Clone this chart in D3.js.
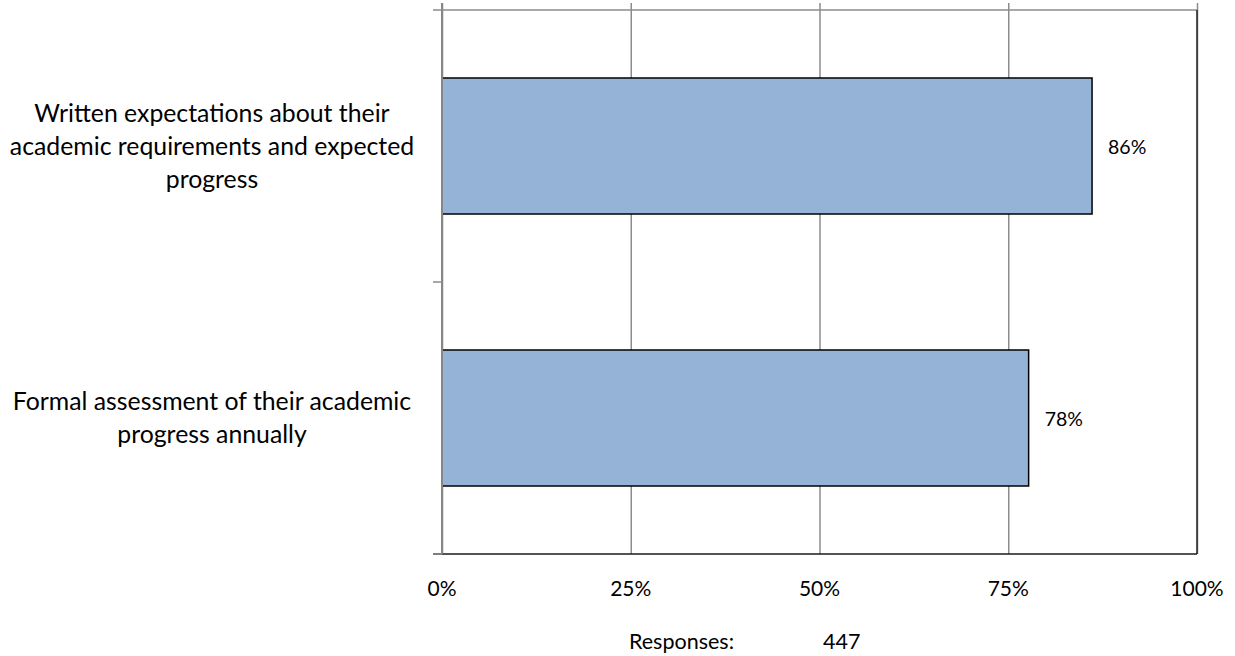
<!DOCTYPE html>
<html>
<head>
<meta charset="utf-8">
<script src="https://cdn.jsdelivr.net/npm/d3@7/dist/d3.min.js"></script>
<style>
  html, body { margin: 0; padding: 0; background: #fff; }
  svg { display: block; font-family: Lato, "Open Sans", sans-serif; }
</style>
</head>
<body>
<svg id="chart" width="1235" height="656"></svg>
<script>
const categories = [
  ["Written expectations about their", "academic requirements and expected", "progress"],
  ["Formal assessment of their academic", "progress annually"]
];
const values = [0.861, 0.777];
const valueLabels = ["86%", "78%"];
const tickValues = [0, 0.25, 0.5, 0.75, 1];
const tickLabels = ["0%", "25%", "50%", "75%", "100%"];
const responsesLabel = "Responses:";
const responsesCount = "447";

(function () {
const svg = d3.select("#chart");
const pLeft = 442, pRight = 1197, pTop = 10, pBottom = 554;
const ids = categories.map((d, i) => i);

const x = d3.scaleLinear().domain([0, 1]).range([pLeft, pRight]);
const y = d3.scaleBand().domain(ids).range([pTop, pBottom]).paddingInner(0.5).paddingOuter(0.25);

// gridlines (vertical) incl. small marks above top
const grid = svg.append("g").attr("transform", `translate(0,${pBottom})`)
  .call(d3.axisTop(x).tickValues(tickValues).tickSize(pBottom - pTop + 7).tickFormat(""));
grid.select(".domain").remove();
grid.selectAll("line").attr("stroke", "#8c8c8c").attr("stroke-width", 1.5);

// top border
svg.append("line").attr("x1", pLeft).attr("x2", pRight).attr("y1", pTop).attr("y2", pTop)
  .attr("stroke", "#8c8c8c").attr("stroke-width", 1.5);
// right border
svg.append("line").attr("x1", pRight).attr("x2", pRight).attr("y1", pTop).attr("y2", pBottom)
  .attr("stroke", "#262626").attr("stroke-width", 1.5);

// bars
svg.append("g").selectAll("rect").data(values).join("rect")
  .attr("x", x(0))
  .attr("y", (d, i) => y(i))
  .attr("width", d => x(d) - x(0))
  .attr("height", y.bandwidth())
  .attr("fill", "#95b3d7")
  .attr("stroke", "#000")
  .attr("stroke-width", 1.5);

// bottom axis line
svg.append("line").attr("x1", pLeft - 9).attr("x2", pRight).attr("y1", pBottom).attr("y2", pBottom)
  .attr("stroke", "#1a1a1a").attr("stroke-width", 1.5);

// left axis with category separator ticks
const catTicks = [pTop, pTop + y.step(), pBottom];
svg.append("line").attr("x1", pLeft).attr("x2", pLeft).attr("y1", pTop - 7).attr("y2", pBottom)
  .attr("stroke", "#868686").attr("stroke-width", 2);
svg.append("g").selectAll("line").data(catTicks).join("line")
  .attr("x1", pLeft - 9).attr("x2", pLeft).attr("y1", d => d).attr("y2", d => d)
  .attr("stroke", "#8c8c8c").attr("stroke-width", 1.5);

// x tick labels
svg.append("g").selectAll("text").data(tickValues).join("text")
  .attr("x", d => x(d)).attr("y", 587)
  .attr("text-anchor", "middle").attr("dominant-baseline", "central")
  .attr("font-size", 21).attr("fill", "#000")
  .text((d, i) => tickLabels[i]);

// category labels
const catG = svg.append("g");
categories.forEach((lines, i) => {
  const cy = y(i) + y.bandwidth() / 2;
  const lh = 33;
  const t = catG.append("text").attr("text-anchor", "middle").attr("font-size", 24.8).attr("fill", "#000");
  lines.forEach((ln, j) => {
    t.append("tspan").attr("x", 212)
      .attr("y", cy - 1 + (j - (lines.length - 1) / 2) * lh)
      .attr("dominant-baseline", "central")
      .text(ln);
  });
});

// data labels
svg.append("g").selectAll("text").data(values).join("text")
  .attr("x", d => x(d) + 16)
  .attr("y", (d, i) => y(i) + y.bandwidth() / 2)
  .attr("dominant-baseline", "central")
  .attr("font-size", 19.5).attr("fill", "#000")
  .text((d, i) => valueLabels[i]);

// responses footer
svg.append("text").attr("x", 629).attr("y", 641).attr("dominant-baseline", "central")
  .attr("font-size", 21.5).attr("fill", "#000").text(responsesLabel);
svg.append("text").attr("x", 823).attr("y", 641).attr("dominant-baseline", "central")
  .attr("font-size", 21.5).attr("fill", "#000").text(responsesCount);
})();
</script>
</body>
</html>
